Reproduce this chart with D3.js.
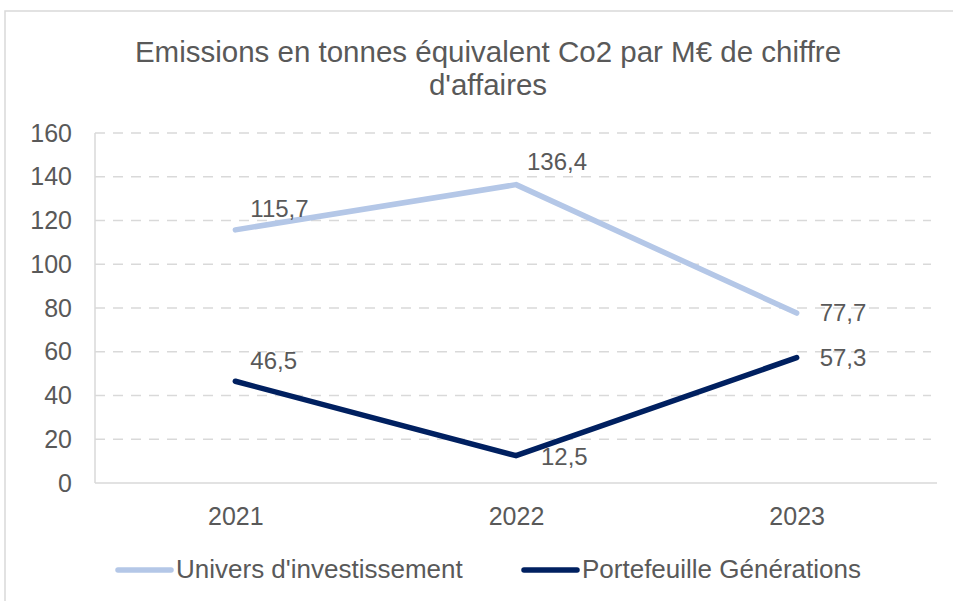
<!DOCTYPE html>
<html>
<head>
<meta charset="utf-8">
<script src="https://cdn.jsdelivr.net/npm/d3@7"></script>
<style>
  body { margin: 0; background: #fff; }
  text { font-family: "Liberation Sans", Arial, sans-serif; fill: #595959; }
</style>
</head>
<body>
<svg width="953" height="601"></svg>
<script>
// data
var years = ["2021", "2022", "2023"];
var univers = [115.7, 136.4, 77.7];
var portefeuille = [46.5, 12.5, 57.3];
var seriesNames = ["Univers d'investissement", "Portefeuille Générations"];
var yTicks = [0, 20, 40, 60, 80, 100, 120, 140, 160];
var titleLines = ["Emissions en tonnes équivalent Co2 par M€ de chiffre", "d'affaires"];

var svg = d3.select("svg");
var colors = ["#b4c7e7", "#002060"];
var font = "'Liberation Sans', Arial, sans-serif";

// cadre du graphique
svg.append("rect")
  .attr("x", 5).attr("y", 11)
  .attr("width", 960).attr("height", 620)
  .attr("fill", "none")
  .attr("stroke", "#d9d9d9")
  .attr("stroke-width", 1.5);

var plotLeft = 95, plotRight = 937, plotTop = 133, plotBottom = 483;

var x = d3.scalePoint().domain(years).range([plotLeft, plotRight]).padding(0.5);
var y = d3.scaleLinear().domain([0, 160]).range([plotBottom, plotTop]);

// titre
svg.append("g").selectAll("text")
  .data(titleLines)
  .enter().append("text")
  .attr("x", 488)
  .attr("y", function(d, i) { return 62 + i * 33; })
  .attr("text-anchor", "middle")
  .style("font-size", "29.5px")
  .text(function(d) { return d; });

// grille
svg.append("g").selectAll("line")
  .data(yTicks.filter(function(d) { return d > 0; }))
  .enter().append("line")
  .attr("x1", plotLeft).attr("x2", plotRight - 6)
  .attr("y1", function(d) { return y(d); })
  .attr("y2", function(d) { return y(d); })
  .attr("stroke", "#d9d9d9")
  .attr("stroke-width", 1.5)
  .attr("stroke-dasharray", "10,8");

// axes
svg.append("line")
  .attr("x1", plotLeft).attr("x2", plotLeft)
  .attr("y1", plotTop).attr("y2", plotBottom)
  .attr("stroke", "#d9d9d9").attr("stroke-width", 1.5);
svg.append("line")
  .attr("x1", plotLeft).attr("x2", plotRight)
  .attr("y1", plotBottom).attr("y2", plotBottom)
  .attr("stroke", "#d9d9d9").attr("stroke-width", 1.5);

var yAxis = d3.axisLeft(y).tickValues(yTicks).tickSize(0).tickPadding(23);
var gy = svg.append("g").attr("transform", "translate(" + plotLeft + ",0)").call(yAxis);
gy.select(".domain").remove();
gy.selectAll("text").style("font-size", "25px").attr("fill", "#595959")
  .style("font-family", font);

var xAxis = d3.axisBottom(x).tickSize(0).tickPadding(24);
var gx = svg.append("g").attr("transform", "translate(0," + plotBottom + ")").call(xAxis);
gx.select(".domain").remove();
gx.selectAll("text").style("font-size", "25px").attr("fill", "#595959")
  .style("font-family", font);

// courbes
var line = d3.line()
  .x(function(d, i) { return x(years[i]); })
  .y(function(d) { return y(d); });

var allSeries = [univers, portefeuille];
svg.append("g").selectAll("path")
  .data(allSeries)
  .enter().append("path")
  .attr("d", line)
  .attr("fill", "none")
  .attr("stroke", function(d, i) { return colors[i]; })
  .attr("stroke-width", 5.5)
  .attr("stroke-linejoin", "round")
  .attr("stroke-linecap", "round");

// étiquettes de données (décalage par point)
var labelOffsets = [
  [[15, -13], [11, -15], [23, 8]],
  [[15, -12], [25, 9], [23, 8]]
];
allSeries.forEach(function(s, si) {
  svg.append("g").selectAll("text")
    .data(s)
    .enter().append("text")
    .attr("x", function(d, i) { return x(years[i]) + labelOffsets[si][i][0]; })
    .attr("y", function(d, i) { return y(d) + labelOffsets[si][i][1]; })
    .style("font-size", "24px")
    .text(function(d) { return String(d).replace(".", ","); });
});

// légende
var legendX = [116, 522];
var leg = svg.append("g").selectAll("g")
  .data(seriesNames)
  .enter().append("g")
  .attr("transform", function(d, i) { return "translate(" + legendX[i] + ",570)"; });
leg.append("line")
  .attr("x1", 2).attr("x2", 55)
  .attr("stroke", function(d, i) { return colors[i]; })
  .attr("stroke-width", 5.5)
  .attr("stroke-linecap", "round");
leg.append("text")
  .attr("x", 60).attr("y", 8)
  .style("font-size", "26px")
  .text(function(d) { return d; });
</script>
</body>
</html>
